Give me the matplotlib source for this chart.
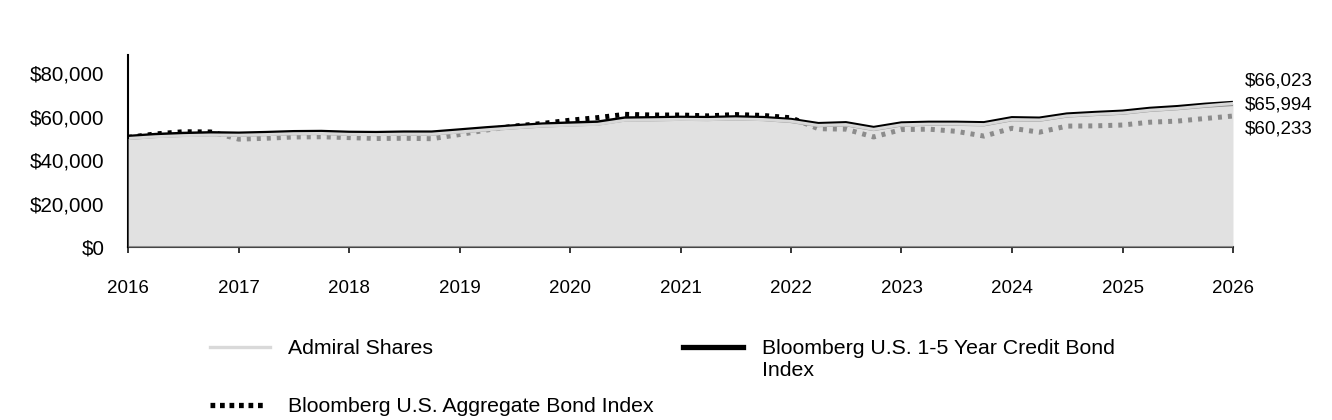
import numpy as np
import pandas as pd
import matplotlib
matplotlib.use("Agg")
import matplotlib.pyplot as plt
import matplotlib.dates as mdates
from matplotlib.lines import Line2D
from matplotlib.ticker import FuncFormatter

plt.rcParams['font.family'] = ['Liberation Sans', 'DejaVu Sans']

# ---- data (growth of $50,000, quarter ends) ----
dates = pd.date_range('2016-01-01', '2026-01-01', freq='QS')

admiral = [49900, 50700, 51200, 51500, 51400, 51700, 52100, 52200, 51800, 51700,
           51900, 51900, 52900, 53900, 54800, 55600, 56000, 56400, 58300, 58500,
           58700, 58600, 58900, 58600, 57800, 55900, 56300, 54100, 56200, 56500,
           56500, 56300, 58600, 58400, 60300, 61000, 61600, 62900, 63700, 64900,
           65994]
credit_1_5 = [50400, 51300, 51800, 52100, 51900, 52200, 52600, 52700, 52300, 52200,
              52400, 52400, 53400, 54400, 55300, 56100, 56600, 57000, 58900, 59000,
              59200, 59100, 59400, 59100, 58200, 56300, 56700, 54500, 56600, 56900,
              56900, 56700, 59000, 58800, 60700, 61400, 62000, 63300, 64100, 65200,
              66023]
aggregate = [50400, 52000, 53000, 52900, 49600, 50000, 50600, 50700, 50300, 49900,
             50000, 49800, 51700, 53800, 55600, 56800, 58300, 59500, 61000, 60700,
             60700, 60300, 60900, 60500, 59400, 54400, 54200, 50600, 54000, 54200,
             53200, 51000, 54600, 52800, 55600, 55700, 56100, 57400, 57900, 59100,
             60233]

labels = ['Admiral Shares', 'Bloomberg U.S. 1-5 Year Credit Bond\nIndex',
          'Bloomberg U.S. Aggregate Bond Index']

W, H = 1332, 420
fig = plt.figure(figsize=(W / 100, H / 100), dpi=100)
ax = fig.add_axes([128 / W, 1 - 247 / H, (1233 - 128) / W, (247 - 55) / H])

dot_style = (0, (0.8, 1.2))

ax.plot(dates, aggregate, color='black', lw=3.6, linestyle=dot_style, zorder=2)
ax.plot(dates, credit_1_5, color='black', lw=3.8, zorder=3, solid_capstyle='butt')
ax.plot(dates, admiral, color='#d9d9d9', lw=2.2, zorder=3.5)
# semi-transparent area on top, so lines beneath it turn grey
ax.fill_between(dates, 0, admiral, color='#d3d3d3', alpha=0.665, lw=0, zorder=4)

ax.set_xlim(dates[0], dates[-1])
ax.set_ylim(0, 88300)
ax.set_yticks([0, 20000, 40000, 60000, 80000])
ax.yaxis.set_major_formatter(FuncFormatter(lambda v, p: f"${v:,.0f}"))
ax.xaxis.set_major_locator(mdates.YearLocator())
ax.xaxis.set_major_formatter(mdates.DateFormatter('%Y'))

for s in ['top', 'right']:
    ax.spines[s].set_visible(False)
ax.spines['left'].set_color('black')
ax.spines['left'].set_linewidth(1.5)
ax.spines['bottom'].set_color('black')
ax.spines['bottom'].set_linewidth(1.5)
ax.spines['left'].set_zorder(3.8)
ax.spines['bottom'].set_zorder(3.8)

ax.tick_params(axis='y', length=0, pad=17, labelsize=14.8)
ax.tick_params(axis='x', length=4.5, width=1.1, direction='out', pad=19, labelsize=13.5)

# end-value labels at the right
end_vals = [credit_1_5[-1], admiral[-1], aggregate[-1]]
for val, ypx in zip(end_vals, [81, 105, 129]):
    fig.text(1245 / W, 1 - ypx / H, f"${val:,.0f}", ha='left', va='center', fontsize=13.5)

# legend, laid out by hand so the two-line label keeps its handle on the first line
legend_items = [
    (labels[0], dict(color='#d9d9d9', lw=2.4), 210, 270, 347, 288),
    (labels[1], dict(color='black', lw=3.8), 683, 743, 347, 762),
    (labels[2], dict(color='black', lw=3.8, linestyle=(0, (0.9, 0.9))), 210, 264, 405, 288),
]
for text, style, x0, x1, ypx, tx in legend_items:
    fig.add_artist(Line2D([x0 / W, x1 / W], [1 - ypx / H, 1 - ypx / H],
                          transform=fig.transFigure, **style))
    fig.text(tx / W, 1 - (ypx - 8) / H, text, ha='left', va='top', fontsize=15.3,
             linespacing=1.2)

fig.savefig('out.png', dpi=100)
